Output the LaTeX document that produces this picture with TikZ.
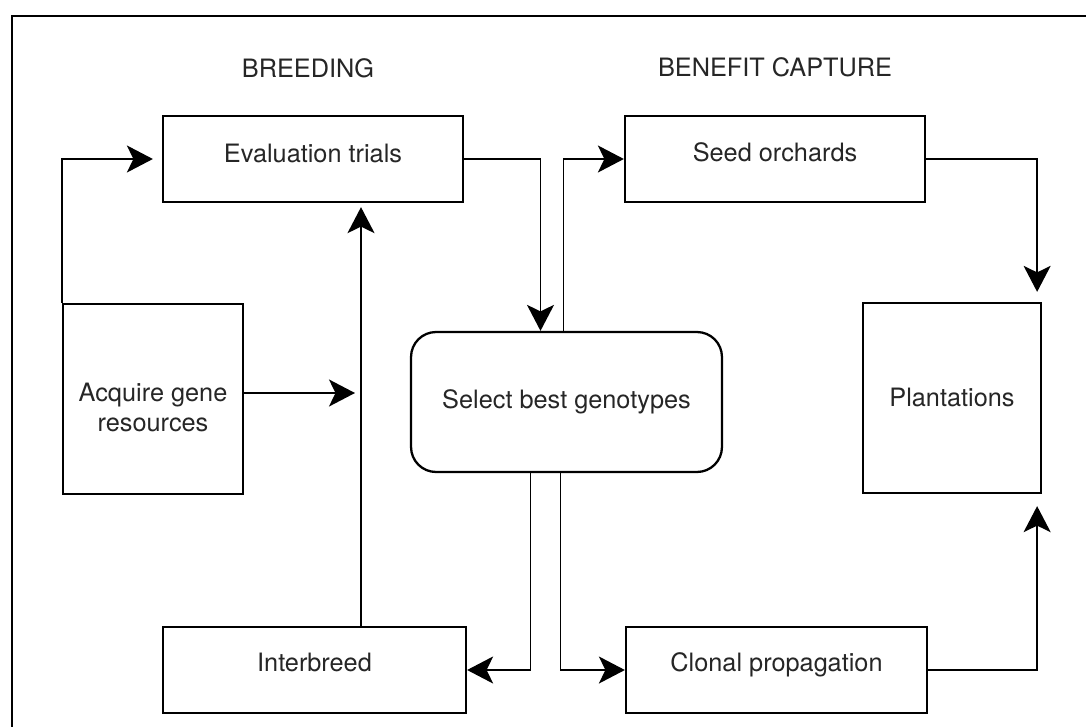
\documentclass[tikz,border=0pt]{standalone}
\usepackage{fontspec}
\setmainfont{TeX Gyre Heros}
\usetikzlibrary{arrows.meta,calc}
\begin{document}
\begin{tikzpicture}[x=0.02cm,y=-0.02cm,
  every node/.style={font=\fontsize{14.4}{17.5}\selectfont, text=black!85},
  box/.style={draw, line width=1.3pt, inner sep=0pt, align=center},
  conn/.style={line width=1.1pt},
  arr/.style={conn, -{Stealth[length=0.52cm,width=0.54cm,inset=0.13cm]}},
]
\useasboundingbox[fill=white] (0,0) rectangle (1086,727);
\coordinate (fb) at (12,727);
\coordinate (fr) at (1086,16);
\draw[line width=1.3pt] (fb) |- (fr);

\node (lb) at (308,68) {BREEDING};
\node (lbc) at (775,67) {BENEFIT CAPTURE};

\node[box, minimum width=6cm, minimum height=1.72cm] (eval) at (313,159) {\smash{\raisebox{-0.06cm}{Evaluation trials}}};
\node[box, minimum width=6cm, minimum height=1.72cm] (seed) at (775,159) {\smash{\raisebox{-0.04cm}{Seed orchards}}};
\node[box, minimum width=3.6cm, minimum height=3.8cm] (acq) at (153,399) {\smash{\raisebox{-0.04cm}{\begin{tabular}[t]{@{}c@{}}Acquire gene\\resources\end{tabular}}}};
\node[box, rounded corners=0.5cm, minimum width=6.22cm, minimum height=2.8cm] (sel) at (566.5,402) {\smash{\raisebox{-0.12cm}{Select best genotypes}}};
\node[box, minimum width=3.56cm, minimum height=3.8cm] (plant) at (952,398) {\smash{\raisebox{-0.16cm}{Plantations}}};
\node[box, minimum width=6.06cm, minimum height=1.72cm] (ib) at (314.5,670) {\smash{\raisebox{-0.02cm}{Interbreed}}};
\node[box, minimum width=6.02cm, minimum height=1.72cm] (clon) at (776.5,670) {\smash{\raisebox{-0.02cm}{Clonal propagation}}};

\coordinate (vx) at (361,0);
\coordinate (aend) at (355,393);

\draw[arr, shorten >=0.18cm] (acq.north west) |- (eval.west);
\draw[arr] (eval.east) -| ($(sel.north)+(-26,0)$);
\draw[arr] ($(sel.north)+(-3,0)$) |- (seed.west);
\draw[arr, shorten >=0.2cm] (seed.east) -| ($(plant.north east)+(-5,0)$);
\draw[arr] (acq.east |- aend) -- (aend);
\draw[arr, shorten >=0.08cm] (ib.north -| vx) -- (eval.south -| vx);
\draw[arr] ($(sel.south)+(-36,0)$) |- (ib.east);
\draw[arr] ($(sel.south)+(-6,0)$) |- (clon.west);
\draw[arr, shorten >=0.24cm] (clon.east) -| ($(plant.south east)+(-5,0)$);
\end{tikzpicture}
\end{document}
